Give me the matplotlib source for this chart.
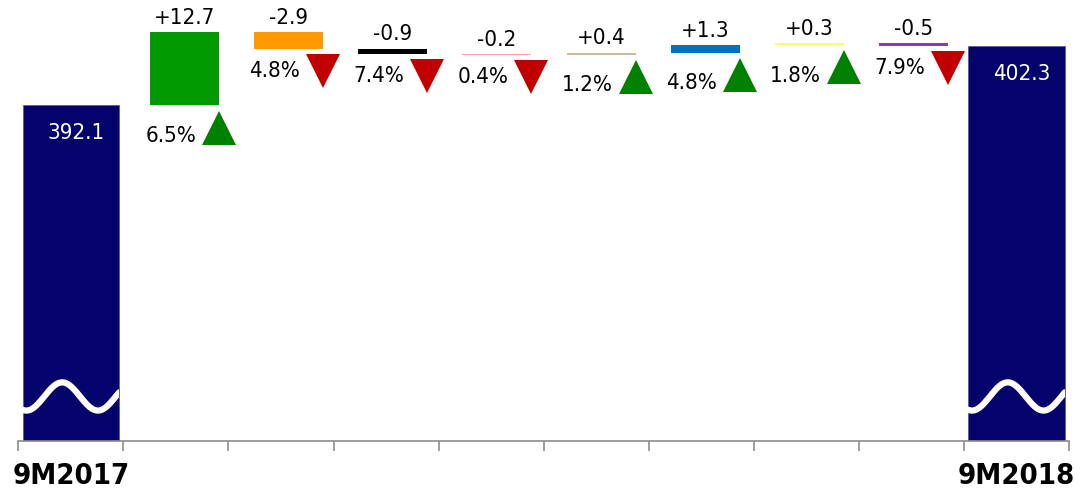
import numpy as np
import matplotlib
matplotlib.use("Agg")
import matplotlib.pyplot as plt
from matplotlib import transforms

# ---- data -------------------------------------------------------------
period_labels = ["9M2017", "", "", "", "", "", "", "", "", "9M2018"]
start_value = 392.1
end_value = 402.3
deltas = [12.7, -2.9, -0.9, -0.2, 0.4, 1.3, 0.3, -0.5]
pct_change = ["6.5%", "4.8%", "7.4%", "0.4%", "1.2%", "4.8%", "1.8%", "7.9%"]
delta_colors = ["#009900", "#FF9900", "#000000", "#FF9F9F",
                "#C9BDA0", "#0070C0", "#FFFF66", "#8040B0"]

# ---- style ------------------------------------------------------------
plt.rcParams["font.family"] = ["DejaVu Sans"]
plt.rcParams["font.stretch"] = "condensed"
NAVY = "#03036B"
UP_GREEN = "#008000"
DOWN_RED = "#C00000"
AXIS_GREY = "#8C8C8C"

fig = plt.figure(figsize=(10.8, 4.95), dpi=100)
ax = fig.add_axes([18.3 / 1080, 54 / 495, (1069 - 18.3) / 1080, 441 / 495])
y_lo, y_hi = 334.17, 410.27
ax.set_xlim(-0.5, 9.5)
ax.set_ylim(y_lo, y_hi)
for side in ("top", "right", "left"):
    ax.spines[side].set_visible(False)
ax.spines["bottom"].set_color(AXIS_GREY)
ax.spines["bottom"].set_linewidth(1.2)
ax.set_yticks([])

# ---- running totals ---------------------------------------------------
levels = start_value + np.concatenate([[0.0], np.cumsum(deltas)])
before = levels[:-1]
after = levels[1:]

# ---- total bars (broken axis) ----------------------------------------
total_w = 0.92
totals = [start_value, end_value]
total_x = [0, 9]
total_bars = ax.bar(total_x, [v - y_lo for v in totals], bottom=y_lo,
                    width=total_w, color=NAVY, edgecolor="#5C5C9E",
                    linewidth=0.6, zorder=2)

wave_tr = transforms.blended_transform_factory(ax.transData, ax.transAxes)
t = np.linspace(0, 1, 300)
for xc, patch in zip(total_x, total_bars.patches):
    xs = xc - total_w / 2 + t * total_w
    ys = 0.101 + 0.032 * np.cos(2 * np.pi * (t - 0.41) / 0.74)
    line, = ax.plot(xs, ys, color="white", lw=4.5, transform=wave_tr,
                    solid_capstyle="round", zorder=3)
    line.set_clip_path(patch)

for xc, v in zip(total_x, totals):
    ax.annotate(f"{v:.1f}", (xc, v), xytext=(3.5, -13),
                textcoords="offset points", ha="center", va="top",
                color="white", fontsize=16, zorder=4)

# ---- delta bars -------------------------------------------------------
delta_w = 0.657
delta_shift = np.linspace(0.082, 0.019, len(deltas))
dx = np.arange(1, len(deltas) + 1) + delta_shift
bottoms = np.minimum(before, after)
tops = np.maximum(before, after)
ax.bar(dx, tops - bottoms, bottom=bottoms, width=delta_w,
       color=delta_colors, edgecolor="none", zorder=2)

tri_off = transforms.offset_copy(ax.transData, fig=fig, x=0, y=-16,
                                 units="points")
for x, d, lo, hi, pct in zip(dx, deltas, bottoms, tops, pct_change):
    ax.annotate(f"{d:+.1f}", (x, hi), xytext=(0, 3),
                textcoords="offset points", ha="center", va="bottom",
                fontsize=16, zorder=4)
    up = d > 0
    ax.plot([x + delta_w / 2], [lo], linestyle="none",
            marker="^" if up else "v", markersize=24, markeredgewidth=0,
            color=UP_GREEN if up else DOWN_RED, transform=tri_off, zorder=3)
    ax.annotate(pct, (x + delta_w / 2, lo),
                xytext=(-16.5, -22 if up else -16),
                textcoords="offset points", ha="right", va="center",
                fontsize=16, zorder=4)

# ---- category axis ----------------------------------------------------
ax.set_xticks(np.arange(-0.5, 10.0, 1.0))
ax.set_xticklabels([])
ax.tick_params(axis="x", which="major", direction="out", length=7,
               width=1.2, color=AXIS_GREY)
ax.set_xticks(np.arange(10), labels=period_labels, minor=True)
ax.tick_params(axis="x", which="minor", length=0, pad=15, labelsize=21)
for lbl in ax.get_xticklabels(minor=True):
    lbl.set_fontweight("bold")

fig.savefig("out.png", dpi=100)
